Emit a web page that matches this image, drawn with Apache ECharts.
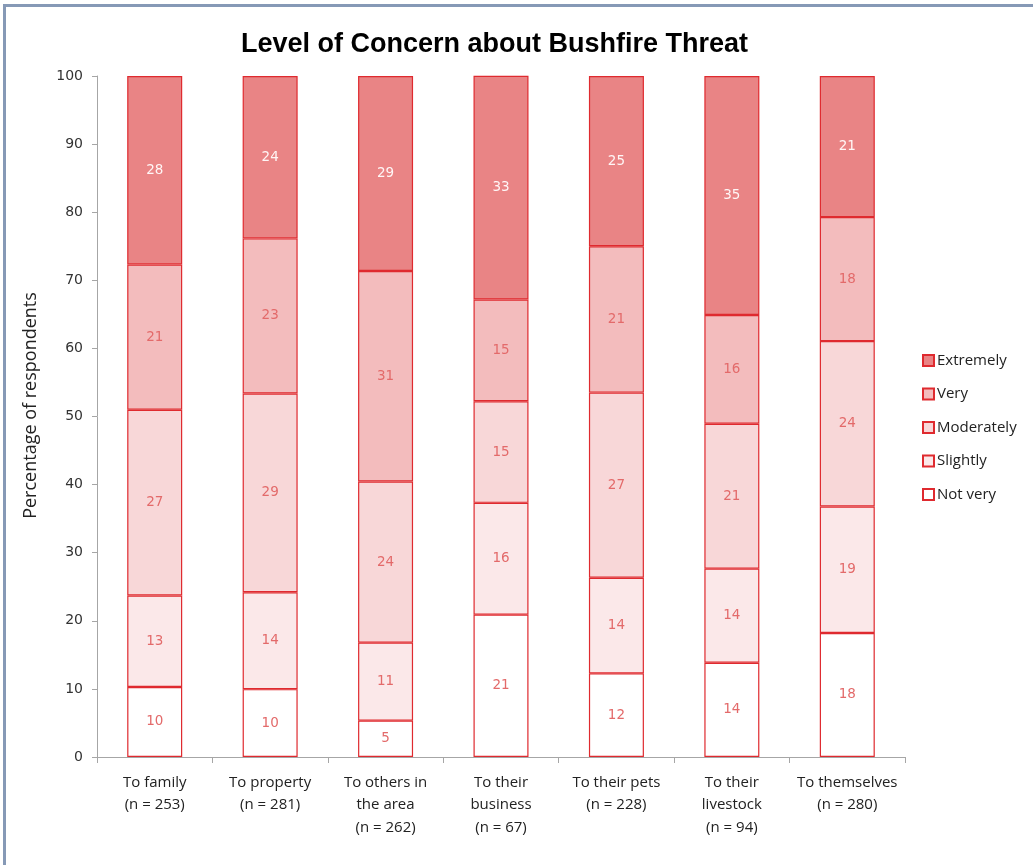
<!DOCTYPE html>
<html>
<head>
<meta charset="utf-8">
<title>Level of Concern about Bushfire Threat</title>
<script src="https://cdn.jsdelivr.net/npm/echarts@6/dist/echarts.min.js"></script>
<style>
  html, body { margin: 0; padding: 0; background: #ffffff; }
  #frame {
    position: absolute; left: 3px; top: 4px; width: 1100px; height: 900px;
    border-left: 3px solid #8699b6; border-top: 3px solid #8699b6;
    box-sizing: border-box; pointer-events: none; z-index: 2;
  }
  #chart { position: absolute; left: 0; top: 0; width: 1033px; height: 865px; }
</style>
</head>
<body>
<div id="chart"></div>
<div id="frame"></div>
<script>
// Categories (axis labels, with sample sizes)
const categories = [
  'To family\n(n = 253)',
  'To property\n(n = 281)',
  'To others in\nthe area\n(n = 262)',
  'To their\nbusiness\n(n = 67)',
  'To their pets\n(n = 228)',
  'To their\nlivestock\n(n = 94)',
  'To themselves\n(n = 280)'
];

// Percentage of respondents per level of concern (same category order)
const notVery    = [10.28,  9.96,  5.34, 20.90, 12.28, 13.83, 18.21];
const slightly   = [13.44, 14.23, 11.45, 16.42, 14.04, 13.83, 18.57];
const moderately = [27.27, 29.18, 23.66, 14.93, 27.19, 21.28, 24.29];
const very       = [21.34, 22.78, 30.92, 14.93, 21.49, 15.96, 18.21];
const extremely  = [27.67, 23.84, 28.63, 32.84, 25.00, 35.11, 20.71];

const levelNames = ['Not very', 'Slightly', 'Moderately', 'Very', 'Extremely'];
const levelData  = [notVery, slightly, moderately, very, extremely];
const fills      = ['#ffffff', '#fbe8e9', '#f8d7d8', '#f3bcbd', '#e98485'];
const labelCols  = ['#e36a6a', '#e36a6a', '#e36a6a', '#e36a6a', '#fff6f6'];

const chart = echarts.init(document.getElementById('chart'), null, { renderer: 'canvas' });

const series = levelNames.map((name, i) => ({
  name: name,
  type: 'bar',
  stack: 'concern',
  barWidth: 55,
  data: levelData[i],
  itemStyle: { color: fills[i], borderColor: '#df2a2f', borderWidth: 1.2 },
  label: {
    show: true,
    position: 'inside',
    color: labelCols[i],
    fontFamily: 'DejaVu Sans',
    fontSize: 13.5,
    formatter: p => Math.round(p.value)
  },
  emphasis: { disabled: true }
}));

chart.setOption({
  animation: false,
  backgroundColor: '#ffffff',
  title: {
    text: 'Level of Concern about Bushfire Threat',
    left: 236,
    top: 26,
    textStyle: { fontFamily: 'Liberation Sans', fontWeight: 'bold', fontSize: 27, color: '#000000' }
  },
  legend: {
    orient: 'vertical',
    left: 922,
    top: 353,
    padding: 0,
    icon: 'rect',
    itemWidth: 11,
    itemHeight: 11,
    itemGap: 18.5,
    data: ['Extremely', 'Very', 'Moderately', 'Slightly', 'Not very'],
    textStyle: { fontFamily: 'Open Sans', fontSize: 15, color: '#222222', padding: [0, 0, 0, -2] },
    selectedMode: false
  },
  grid: { left: 97, top: 76, right: 128, bottom: 108, containLabel: false },
  xAxis: {
    type: 'category',
    data: categories,
    axisLine: { lineStyle: { color: '#a6a6a6', width: 1 } },
    axisTick: { show: true, length: 6, lineStyle: { color: '#a6a6a6' } },
    axisLabel: {
      margin: 14,
      interval: 0,
      fontFamily: 'Open Sans',
      fontSize: 15,
      lineHeight: 22.5,
      color: '#222222'
    }
  },
  yAxis: {
    type: 'value',
    min: 0,
    max: 100,
    interval: 10,
    name: 'Percentage of respondents',
    nameLocation: 'middle',
    nameGap: 57,
    nameTextStyle: { fontFamily: 'Open Sans', fontSize: 18, color: '#222222', padding: [0, 0, 0, 22] },
    axisLine: { show: true, lineStyle: { color: '#a6a6a6', width: 1 } },
    axisTick: { show: true, length: 5, lineStyle: { color: '#a6a6a6' } },
    axisLabel: { margin: 14, fontFamily: 'DejaVu Sans', fontSize: 14, color: '#333333' },
    splitLine: { show: false }
  },
  series: series
});
</script>
</body>
</html>
